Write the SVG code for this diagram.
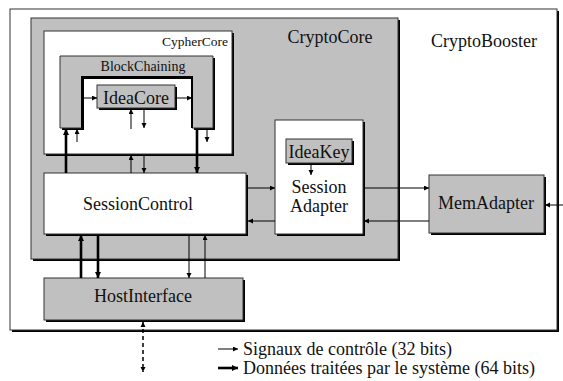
<svg xmlns="http://www.w3.org/2000/svg" width="563" height="381" viewBox="0 0 563 381" font-family="'Liberation Serif', 'DejaVu Serif', serif">
  <style>
    .shadow { fill: #000; }
    .box { stroke: #333; stroke-width: 1; }
    .white { fill: #fff; }
    .gray { fill: #c0c0c0; }
    text { font-family: 'Liberation Serif', 'DejaVu Serif', serif; fill: #111; }
    .lbl { font-size: 18px; text-anchor: middle; }
    .thin { stroke: #000; stroke-width: 1; fill: none; marker-end: url(#ah); }
    .thick { stroke: #000; stroke-width: 2.6; fill: none; marker-end: url(#ahb); }
  </style>
  <defs>
    <marker id="ah" markerUnits="userSpaceOnUse" markerWidth="6" markerHeight="6" refX="5" refY="2.5" orient="auto">
      <path d="M0,0 L5,2.5 L0,5 Z" fill="#000"/>
    </marker>
    <marker id="ahb" markerUnits="userSpaceOnUse" markerWidth="8" markerHeight="8" refX="6" refY="3" orient="auto">
      <path d="M0,0 L6,3 L0,6 Z" fill="#000"/>
    </marker>
    <marker id="ahs" markerUnits="userSpaceOnUse" markerWidth="6" markerHeight="6" refX="0" refY="2.5" orient="auto">
      <path d="M5,0 L0,2.5 L5,5 Z" fill="#000"/>
    </marker>
  </defs>

  <rect width="563" height="381" fill="#fff"/>

  <!-- CryptoBooster (outer system) -->
  <g id="cryptobooster">
    <rect class="shadow" x="12" y="11" width="547" height="321"/>
    <rect class="box white" x="10" y="9" width="547" height="321"/>
    <text class="lbl" x="484" y="47">CryptoBooster</text>
  </g>

  <!-- CryptoCore -->
  <g id="cryptocore">
    <rect class="shadow" x="33" y="20" width="367" height="241"/>
    <rect class="box gray" x="31" y="18" width="367" height="241"/>
    <text class="lbl" x="330" y="43">CryptoCore</text>
  </g>

  <!-- CypherCore -->
  <g id="cyphercore">
    <rect class="shadow" x="46" y="33" width="188" height="123"/>
    <rect class="box white" x="44" y="31" width="188" height="123"/>
    <text x="228" y="46" font-size="13.5" text-anchor="end">CypherCore</text>
  </g>

  <!-- BlockChaining (U shape around IdeaCore) -->
  <g id="blockchaining">
    <path class="shadow" d="M62,58 H215 V130 H194 V79 H84 V130 H62 Z"/>
    <path class="box gray" d="M60,56 H213 V128 H192 V77 H82 V128 H60 Z"/>
    <path d="M82,128 V77 H192 V128" fill="none" stroke="#000" stroke-width="2"/>
    <text x="143" y="71" font-size="14" text-anchor="middle">BlockChaining</text>
  </g>

  <!-- IdeaCore -->
  <g id="ideacore">
    <rect class="shadow" x="99" y="87" width="78" height="23"/>
    <rect class="box gray" x="97" y="85" width="78" height="23"/>
    <text class="lbl" x="136" y="104">IdeaCore</text>
  </g>

  <!-- SessionControl -->
  <g id="sessioncontrol">
    <rect class="shadow" x="46" y="175" width="202" height="61"/>
    <rect class="box white" x="44" y="173" width="202" height="61"/>
    <text class="lbl" x="138" y="210">SessionControl</text>
  </g>

  <!-- Session Adapter -->
  <g id="sessionadapter">
    <rect class="shadow" x="277" y="122" width="88" height="114"/>
    <rect class="box white" x="275" y="120" width="88" height="114"/>
    <text class="lbl" x="319" y="193" font-size="16.5">Session</text>
    <text class="lbl" x="319" y="212" font-size="16.5">Adapter</text>
  </g>

  <!-- IdeaKey -->
  <g id="ideakey">
    <rect class="shadow" x="288" y="141" width="66" height="24"/>
    <rect class="box gray" x="286" y="139" width="66" height="24"/>
    <text class="lbl" x="319" y="158">IdeaKey</text>
  </g>

  <!-- MemAdapter -->
  <g id="memadapter">
    <rect class="shadow" x="431" y="177" width="115" height="58"/>
    <rect class="box gray" x="429" y="175" width="115" height="58"/>
    <text class="lbl" x="486" y="209">MemAdapter</text>
  </g>

  <!-- HostInterface -->
  <g id="hostinterface">
    <rect class="shadow" x="46" y="280" width="199" height="42"/>
    <rect class="box gray" x="44" y="278" width="199" height="42"/>
    <text class="lbl" x="143" y="302">HostInterface</text>
  </g>

  <!-- Connectors -->
  <g id="connectors">
    <!-- BlockChaining <-> IdeaCore -->
    <line class="thin" x1="83" y1="98" x2="97" y2="98" stroke-width="1.5"/>
    <line class="thin" x1="175" y1="98" x2="192" y2="98" stroke-width="1.5"/>
    <!-- IdeaCore control -->
    <line class="thin" x1="131" y1="129" x2="131" y2="109"/>
    <line class="thin" x1="144" y1="109" x2="144" y2="128"/>
    <!-- BlockChaining arms -->
    <line class="thick" x1="66" y1="173" x2="66" y2="129"/>
    <line class="thin" x1="77" y1="142" x2="77" y2="129"/>
    <line class="thick" x1="197" y1="129" x2="197" y2="173"/>
    <line class="thin" x1="207" y1="129" x2="207" y2="142"/>
    <!-- CypherCore <-> SessionControl -->
    <line class="thin" x1="131" y1="173" x2="131" y2="155"/>
    <line class="thin" x1="144" y1="155" x2="144" y2="173"/>
    <!-- SessionControl <-> Session Adapter -->
    <line class="thin" x1="247" y1="188" x2="275" y2="188"/>
    <line class="thin" x1="275" y1="221" x2="248" y2="221"/>
    <!-- IdeaKey -> Session Adapter -->
    <line class="thin" x1="311" y1="164" x2="311" y2="175"/>
    <!-- Session Adapter <-> MemAdapter -->
    <line class="thin" x1="365" y1="188" x2="429" y2="188"/>
    <line class="thin" x1="429" y1="221" x2="364" y2="221"/>
    <!-- external memory -> MemAdapter -->
    <line class="thin" x1="563" y1="205" x2="545" y2="205"/>
    <!-- SessionControl <-> HostInterface -->
    <line class="thick" x1="81" y1="278" x2="81" y2="235"/>
    <line class="thick" x1="98" y1="235" x2="98" y2="278"/>
    <line class="thin" x1="189" y1="235" x2="189" y2="278"/>
    <line class="thin" x1="205" y1="278" x2="205" y2="235"/>
    <!-- host bus (dashed, both ways) -->
    <line x1="143" y1="322" x2="143" y2="372" stroke="#000" stroke-width="1.5" stroke-dasharray="4,3" marker-start="url(#ahs)" marker-end="url(#ah)"/>
  </g>

  <!-- Legend -->
  <g id="legend">
    <line class="thin" x1="218" y1="349" x2="238" y2="349"/>
    <text x="243" y="355" font-size="18">Signaux de contrôle (32 bits)</text>
    <line class="thick" x1="218" y1="368" x2="238" y2="368"/>
    <text x="243" y="374" font-size="18">Données traitées par le système (64 bits)</text>
  </g>
</svg>
